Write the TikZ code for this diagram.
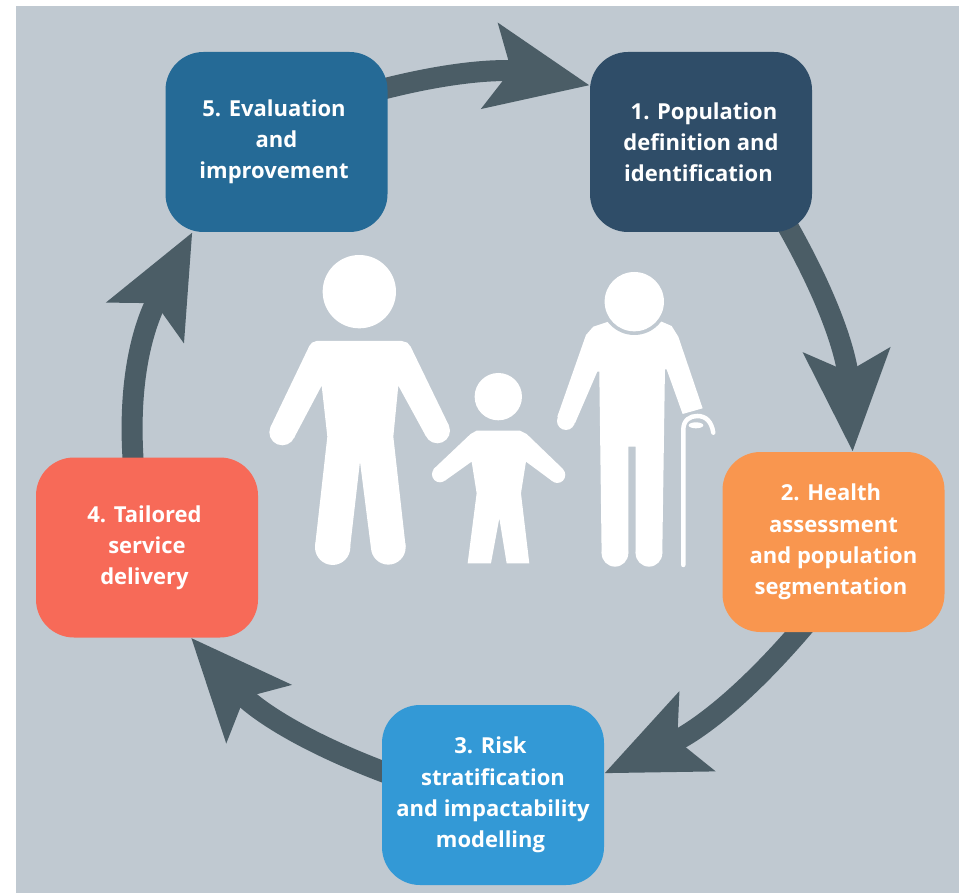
\documentclass[tikz,border=0pt]{standalone}
\usepackage{fontspec}
\setmainfont{Open Sans}
\usetikzlibrary{arrows.meta,backgrounds}
\definecolor{bggray}{HTML}{C0C9D1}
\definecolor{arrowgray}{HTML}{4B5D66}
\definecolor{cA}{HTML}{2F4D68}
\definecolor{cB}{HTML}{F9964F}
\definecolor{cC}{HTML}{3399D6}
\definecolor{cD}{HTML}{F76A58}
\definecolor{cE}{HTML}{256A96}
\newcommand{\tnudge}{\hspace*{5pt}}
\tikzset{
  stepbox/.style={rectangle,rounded corners=38pt,minimum width=222pt,minimum height=180pt,
    inner sep=0pt,text=white,align=center,font=\fontsize{22}{31.2}\selectfont\bfseries},
  cyclearrow/.style={draw=arrowgray,fill=none,line width=21pt,shorten <=-16pt,
    -{Stealth[length=100pt,width=84pt,inset=20pt,fill=arrowgray]}},
  figure/.style={fill=white,draw=none}
}
\begin{document}
\begin{tikzpicture}[x=1pt,y=-1pt]
\useasboundingbox (0,0) rectangle (959,893);
\node[stepbox,fill=cE] (n5) at (276.5,142) {5. Evaluation\tnudge\\and\tnudge\\improvement\tnudge};
\node[stepbox,fill=cA] (n1) at (701,142) {\hspace*{6pt}1. Population\\definition and\tnudge\\identification\tnudge};
\node[stepbox,fill=cB] (n2) at (833.5,542) {2. Health\tnudge\\assessment\tnudge\\and population\tnudge\\segmentation\tnudge};
\node[stepbox,fill=cC] (n3) at (493,795) {3. Risk\tnudge\\stratification\tnudge\\and impactability\tnudge\\modelling\tnudge};
\node[stepbox,fill=cD] (n4) at (147,547.5) {4. Tailored\tnudge\\service\tnudge\\delivery\tnudge};
\begin{scope}[on background layer]
\fill[bggray] (16,6) rectangle (959,893);
\draw[cyclearrow] (n5.26.5) to[out=15,in=169] (n1.153.6);
\draw[cyclearrow] (n1.-45.7) to[out=-60,in=93.4] (n2.78.4);
\draw[cyclearrow] (n2.249.6) to[out=230,in=24.3] (n3.11);
\draw[cyclearrow] (n3.168.3) to[out=160,in=-48.3] (n4.-64.6);
\draw[cyclearrow] (n4.99.5) to[out=95,in=-117.6] (n5.-133);
\end{scope}
\begin{scope}[shift={(250,240)},x=0.3333pt,y=-0.3333pt]
% man
\fill[figure] (328,155) circle[radius=110];
\fill[figure] (200,303) -- (455,303) -- (472,308) -- (482,320) -- (596,555) -- (528,589) -- (445,437) -- (430,590) -- (467,920) -- (363,925) -- (330,665) -- (300,925) -- (195,920) -- (232,590) -- (215,437) -- (132,594) -- (62,560) -- (178,318) -- (186,308) -- cycle;
\fill[figure] (562,572) circle[radius=38] (97,577) circle[radius=39] (415,922) circle[radius=52] (248,922) circle[radius=53];
% child
\fill[figure] (745,470) circle[radius=71];
\fill[figure] (680,572) -- (810,572) -- (830,582) -- (940,688) -- (905,722) -- (828,665) -- (813,760) -- (838,970) -- (770,970) -- (748,835) -- (723,970) -- (653,970) -- (680,760) -- (665,665) -- (585,722) -- (550,688) -- (662,582) -- cycle;
\fill[figure] (922,705) circle[radius=24] (570,703) circle[radius=24];
% elder
\fill[figure] (1075,245) -- (1235,245) -- (1265,258) -- (1285,290) -- (1358,505) -- (1298,522) -- (1250,388) -- (1245,388) -- (1237,940) -- (1157,940) -- (1157,620) -- (1135,620) -- (1135,940) -- (1055,940) -- (1048,395) -- (1042,395) -- (975,550) -- (922,530) -- (1008,285) -- (1030,260) -- cycle;
\fill[figure] (1197,940) circle[radius=40] (1095,940) circle[radius=40] (948,543) circle[radius=27];
\fill[bggray] (1153,185) circle[radius=100];
\fill[figure] (1153,185) circle[radius=89];
% cane
\draw[bggray,line width=3pt] (1296,575) .. controls (1296,535) and (1320,522) .. (1342,522) .. controls (1368,522) and (1385,540) .. (1390,578);
\draw[white,line width=4.5pt,line cap=round] (1300,975) -- (1300,570) .. controls (1300,540) and (1320,528) .. (1342,528) .. controls (1368,528) and (1385,545) .. (1390,578);
\fill[white] (1338,556) ellipse[x radius=22,y radius=9];
\end{scope}
\end{tikzpicture}
\end{document}
